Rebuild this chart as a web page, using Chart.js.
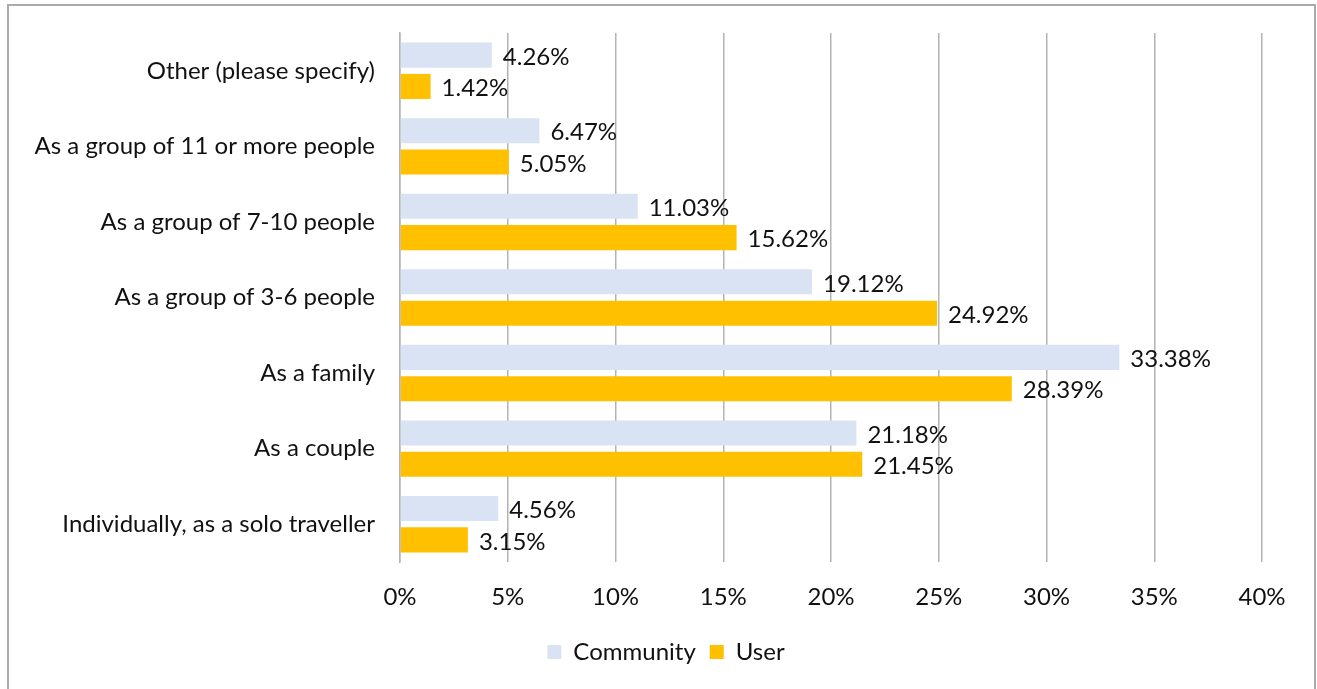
<!DOCTYPE html>
<html>
<head>
<meta charset="utf-8">
<script src="https://cdn.jsdelivr.net/npm/chart.js@4.4.1/dist/chart.umd.min.js"></script>
<style>
    html, body { margin: 0; padding: 0; background: #fff; overflow: hidden; }
    #frame {
        position: absolute; left: 7px; top: 4px; width: 1305px; height: 720px;
        border: 2px solid #ababab; border-bottom: none;
    }
    #wrap { position: absolute; left: 0; top: 0; width: 1317px; height: 689px; }
</style>
</head>
<body>
<div id="frame"></div>
<div id="wrap"><canvas id="chart" width="1317" height="689"></canvas></div>
<script>
// categories, top to bottom as in the picture
const categories = [
    'Other (please specify)',
    'As a group of 11 or more people',
    'As a group of 7-10 people',
    'As a group of 3-6 people',
    'As a family',
    'As a couple',
    'Individually, as a solo traveller'
];
const community = [4.26, 6.47, 11.03, 19.12, 33.38, 21.18, 4.56];
const user = [1.42, 5.05, 15.62, 24.92, 28.39, 21.45, 3.15];
const xTicks = [0, 5, 10, 15, 20, 25, 30, 35, 40];

const FONT = "Lato, 'Open Sans', sans-serif";
const SIZE = 24;
const GRID = '#b3b3b3';

// value labels at bar ends
const valueLabels = {
    id: 'valueLabels',
    afterDatasetsDraw(chart) {
        const ctx = chart.ctx;
        ctx.save();
        ctx.font = `${SIZE}px ${FONT}`;
        ctx.fillStyle = '#111';
        ctx.textBaseline = 'middle';
        ctx.textAlign = 'left';
        chart.data.datasets.forEach((ds, i) => {
            chart.getDatasetMeta(i).data.forEach((bar, j) => {
                ctx.fillText(ds.data[j].toFixed(2) + '%', bar.x + 11, bar.y + 2);
            });
        });
        ctx.restore();
    }
};

// legend is centred on the whole frame, not on the padded box
const legendShift = {
    id: 'legendShift',
    afterLayout(chart) {
        if (chart.legend) {
            chart.legend.left += 35;
            chart.legend.right += 35;
        }
    }
};

new Chart(document.getElementById('chart'), {
    type: 'bar',
    data: {
        labels: categories,
        datasets: [
            { label: 'Community', data: community, backgroundColor: '#dae3f3', borderWidth: 0 },
            { label: 'User', data: user, backgroundColor: '#ffc000', borderWidth: 0 }
        ]
    },
    options: {
        indexAxis: 'y',
        responsive: false,
        animation: false,
        categoryPercentage: 0.83,
        barPercentage: 0.8,
        layout: { padding: { top: 33, right: 55, left: 0, bottom: 15 } },
        scales: {
            x: {
                min: 0,
                max: 40,
                afterBuildTicks: (scale) => { scale.ticks = xTicks.map(v => ({ value: v })); },
                afterFit: (scale) => { scale.height = 64; },
                ticks: {
                    callback: (v) => v + '%',
                    color: '#111',
                    font: { family: FONT, size: SIZE },
                    padding: 21
                },
                grid: { color: GRID, lineWidth: 1.5, drawTicks: false },
                border: { display: false }
            },
            y: {
                afterFit: (scale) => { scale.width = 400; },
                ticks: {
                    color: '#111',
                    font: { family: FONT, size: SIZE },
                    padding: 0
                },
                // invisible tick marks give the gap between labels and axis
                grid: { color: 'rgba(0,0,0,0)', drawTicks: true, tickLength: 25 },
                border: { display: true, color: GRID, width: 1.5 }
            }
        },
        plugins: {
            legend: {
                position: 'bottom',
                labels: {
                    boxWidth: 14,
                    boxHeight: 14,
                    padding: 14,
                    color: '#111',
                    font: { family: FONT, size: SIZE }
                }
            },
            tooltip: { enabled: false }
        }
    },
    plugins: [valueLabels, legendShift]
});
</script>
</body>
</html>
